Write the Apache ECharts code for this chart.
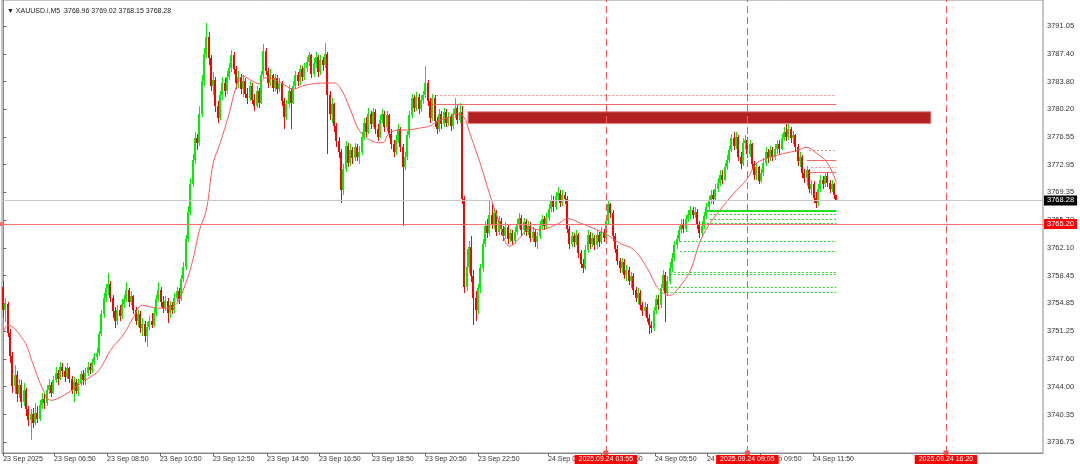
<!DOCTYPE html>
<html><head><meta charset="utf-8">
<script src="https://cdn.jsdelivr.net/npm/echarts@6/dist/echarts.min.js"></script>
<style>html,body{margin:0;padding:0;background:#fff}#c{width:1080px;height:467px}</style>
</head><body><div id="c"></div>
<script>
// ---------- DATA ----------
const symbolName = 'XAUUSD.i,M5';
const firstOpen = 3757.0;
const closes = [
3754.0,3754.8,3751.0,3748.0,3744.0,3745.5,3743.0,3744.2,3742.0,3743.5,
3741.0,3739.6,3740.4,3739.2,3740.6,3739.8,3741.6,3742.4,3741.8,3743.6,
3744.2,3743.2,3744.8,3745.8,3745.0,3746.6,3746.0,3745.2,3746.4,3745.0,
3743.6,3744.6,3743.4,3744.4,3745.6,3744.8,3745.8,3746.6,3746.2,3747.2,
3747.8,3748.4,3750.8,3753.4,3755.6,3756.8,3757.4,3755.6,3753.8,3752.6,
3754.0,3753.2,3754.8,3755.4,3756.6,3755.0,3755.8,3754.0,3752.6,3753.4,
3751.6,3752.2,3750.6,3751.8,3752.6,3752.0,3753.6,3755.4,3756.6,3755.0,
3754.2,3755.2,3753.6,3754.6,3754.0,3755.6,3756.4,3755.4,3758.0,3759.6,
3763.2,3766.8,3770.4,3773.6,3776.4,3775.8,3779.6,3783.8,3787.4,3789.6,
3786.8,3783.2,3784.0,3780.6,3779.0,3782.0,3783.6,3782.6,3784.4,3785.6,
3787.2,3785.4,3783.6,3784.4,3782.8,3783.8,3782.2,3781.6,3783.2,3781.4,
3780.6,3782.6,3781.0,3784.6,3787.8,3785.2,3783.6,3784.6,3783.0,3784.2,
3782.8,3783.6,3781.2,3779.2,3780.8,3782.6,3781.0,3783.2,3784.6,3783.8,
3785.4,3784.4,3785.6,3786.4,3787.2,3784.8,3786.2,3787.0,3785.0,3786.6,
3786.0,3787.4,3782.0,3779.6,3780.8,3778.0,3776.0,3774.6,3769.6,3772.4,
3775.4,3773.2,3774.8,3773.8,3775.2,3774.0,3774.6,3776.6,3778.4,3777.2,
3779.6,3778.2,3779.8,3777.6,3776.6,3778.8,3779.6,3777.8,3779.4,3777.0,
3775.6,3774.6,3776.2,3777.6,3775.2,3772.6,3774.0,3776.8,3779.4,3781.6,
3780.4,3781.8,3780.2,3781.4,3782.0,3783.6,3781.2,3779.0,3781.6,3778.6,
3777.6,3779.6,3778.2,3779.8,3778.4,3779.2,3778.0,3779.6,3780.4,3778.8,
3779.8,3768.4,3757.0,3759.6,3762.2,3758.4,3755.6,3754.0,3756.8,3759.4,
3762.6,3765.0,3764.0,3766.4,3765.2,3766.6,3764.2,3765.6,3764.6,3763.6,
3764.8,3763.2,3764.0,3763.0,3764.2,3765.2,3766.0,3764.4,3765.4,3764.2,
3765.0,3763.4,3764.2,3762.8,3763.6,3765.0,3765.8,3765.0,3766.0,3767.2,
3768.2,3767.4,3768.8,3769.2,3768.0,3769.0,3768.4,3764.6,3762.6,3763.6,
3762.8,3763.8,3761.4,3760.0,3759.4,3761.8,3763.8,3762.6,3763.4,3762.4,
3763.8,3762.8,3764.2,3763.4,3765.6,3767.8,3766.6,3763.6,3762.0,3760.4,
3759.4,3760.2,3758.6,3759.2,3757.8,3758.4,3756.6,3755.6,3756.2,3754.6,
3753.8,3754.4,3753.0,3752.0,3751.6,3753.8,3755.4,3754.6,3756.8,3758.6,
3756.2,3757.8,3759.4,3760.8,3762.4,3763.2,3764.4,3765.2,3764.6,3765.8,
3766.4,3767.0,3766.4,3766.8,3765.2,3764.0,3765.0,3766.2,3767.4,3768.2,
3769.0,3768.4,3769.8,3770.6,3771.6,3771.0,3772.6,3773.6,3774.8,3776.4,
3775.4,3776.6,3774.0,3773.0,3775.8,3776.2,3774.4,3775.6,3773.0,3771.6,
3772.6,3770.8,3771.8,3773.2,3774.6,3773.8,3774.8,3774.0,3775.0,3775.6,
3775.0,3776.4,3777.2,3776.6,3777.6,3776.4,3776.8,3775.2,3773.4,3774.0,
3771.8,3771.2,3772.2,3769.8,3770.4,3768.6,3768.0,3769.8,3771.0,3770.4,
3771.4,3770.6,3769.8,3770.4,3768.96,3768.28
];
const highs = [
3757.8,3755.6,3755.0,3751.5,3748.5,3746.8,3746.0,3745.0,3744.8,3744.5,
3743.8,3741.5,3741.0,3741.2,3741.8,3741.4,3742.2,3743.2,3743.0,3744.2,
3745.0,3744.6,3745.4,3746.5,3746.2,3747.2,3747.0,3746.5,3747.0,3746.6,
3745.4,3745.2,3745.0,3745.0,3746.0,3746.2,3746.4,3747.2,3747.0,3747.6,
3748.4,3749.0,3751.2,3754.0,3756.2,3757.4,3758.8,3757.8,3756.0,3754.4,
3754.6,3754.6,3755.4,3756.0,3757.6,3756.8,3756.4,3756.0,3754.4,3754.0,
3753.8,3753.0,3752.6,3752.4,3753.2,3753.6,3754.2,3756.0,3757.6,3757.0,
3755.8,3755.8,3755.6,3755.2,3755.0,3756.2,3757.0,3756.8,3758.6,3760.2,
3763.8,3767.6,3771.2,3774.4,3777.2,3777.0,3780.6,3784.6,3788.2,3791.4,
3790.2,3787.2,3785.0,3784.4,3781.2,3782.6,3784.4,3784.2,3785.2,3786.2,
3787.9,3787.6,3785.8,3785.2,3784.8,3784.6,3784.2,3783.0,3783.8,3783.6,
3782.2,3783.2,3783.0,3785.2,3788.7,3788.2,3785.6,3785.4,3784.8,3784.8,
3784.6,3784.2,3783.8,3781.6,3781.4,3783.4,3783.0,3783.8,3785.2,3785.0,
3786.0,3785.8,3786.2,3787.0,3787.6,3787.4,3786.8,3787.6,3787.2,3787.2,
3787.0,3788.8,3787.6,3782.6,3781.6,3781.0,3778.4,3776.6,3775.0,3773.0,
3776.0,3775.8,3775.6,3775.2,3775.8,3775.6,3775.4,3777.2,3779.0,3779.2,
3780.4,3780.0,3780.4,3780.2,3778.2,3779.4,3780.2,3780.0,3780.0,3779.6,
3777.6,3776.2,3776.8,3778.2,3777.8,3775.6,3774.6,3777.4,3780.0,3782.2,
3782.0,3782.4,3782.2,3782.0,3782.6,3785.8,3784.0,3781.6,3782.2,3782.0,
3779.2,3780.2,3780.0,3780.4,3780.2,3779.8,3779.6,3780.2,3781.6,3780.8,
3781.0,3780.6,3768.8,3762.0,3763.0,3763.6,3759.2,3756.4,3757.4,3760.0,
3763.2,3765.6,3765.8,3768.2,3768.0,3767.2,3767.0,3766.2,3766.0,3765.0,
3765.4,3765.2,3764.6,3764.4,3764.8,3765.8,3766.6,3766.4,3766.0,3765.8,
3765.6,3765.4,3764.8,3764.6,3764.2,3765.6,3766.4,3766.2,3766.6,3767.8,
3769.0,3768.8,3769.4,3770.0,3769.6,3769.6,3769.4,3768.8,3765.0,3764.2,
3764.0,3764.4,3764.0,3761.8,3760.6,3762.4,3764.4,3764.2,3764.0,3763.8,
3764.4,3764.2,3764.8,3764.6,3766.2,3768.2,3768.0,3767.0,3764.0,3762.4,
3760.8,3760.8,3760.6,3759.8,3759.6,3759.0,3758.8,3757.0,3756.8,3756.6,
3755.0,3755.0,3754.8,3753.4,3752.6,3754.4,3756.0,3756.0,3757.4,3759.2,
3759.0,3758.4,3760.2,3761.4,3763.0,3763.8,3765.0,3765.8,3765.8,3766.4,
3767.0,3767.6,3767.4,3767.4,3767.2,3765.6,3765.6,3766.8,3768.0,3768.8,
3769.6,3769.6,3770.4,3771.2,3772.2,3772.2,3773.2,3774.2,3775.4,3777.0,
3777.2,3777.2,3776.8,3774.6,3776.4,3776.8,3776.6,3776.2,3775.8,3773.4,
3773.2,3772.8,3772.4,3773.8,3775.2,3775.0,3775.4,3775.2,3775.6,3776.2,
3776.2,3777.0,3777.8,3778.3,3778.2,3777.8,3777.4,3777.0,3775.6,3774.6,
3774.2,3772.4,3772.8,3772.4,3771.0,3770.8,3769.4,3770.4,3771.6,3771.4,
3772.0,3771.8,3771.0,3771.0,3770.6,3769.02
];
const lows = [
3753.0,3752.4,3750.5,3747.0,3743.2,3743.0,3742.0,3742.5,3741.2,3741.5,
3740.2,3738.8,3737.0,3738.6,3739.0,3739.2,3739.5,3741.0,3741.0,3741.5,
3743.0,3742.6,3743.0,3744.5,3744.2,3744.8,3745.2,3744.6,3745.0,3744.4,
3743.0,3742.0,3743.0,3742.8,3744.0,3744.2,3744.2,3745.4,3745.6,3745.8,
3746.8,3747.4,3748.0,3750.6,3753.0,3755.0,3756.0,3755.0,3753.0,3751.6,
3752.0,3752.6,3752.8,3754.2,3755.0,3754.4,3754.6,3753.4,3752.0,3751.8,
3751.0,3750.6,3749.8,3749.1,3751.4,3751.6,3751.8,3753.2,3755.0,3754.4,
3753.6,3753.8,3752.3,3753.0,3753.4,3753.6,3755.0,3754.8,3755.2,3757.6,
3759.2,3762.8,3766.4,3770.0,3773.0,3774.8,3775.4,3779.2,3783.2,3786.8,
3786.0,3782.6,3782.0,3779.8,3778.4,3778.8,3781.4,3781.8,3782.2,3784.0,
3785.0,3784.8,3782.8,3783.0,3782.2,3781.8,3781.6,3780.8,3781.2,3780.8,
3780.0,3780.4,3780.4,3780.8,3784.2,3784.6,3783.0,3783.2,3782.4,3782.6,
3782.2,3782.4,3780.6,3777.6,3778.8,3780.4,3777.6,3780.8,3782.8,3783.2,
3783.4,3783.8,3784.0,3785.0,3785.8,3784.2,3784.4,3785.6,3784.4,3784.6,
3785.2,3785.6,3774.4,3778.8,3778.4,3777.2,3775.2,3773.8,3767.9,3769.0,
3772.0,3772.6,3772.8,3773.0,3773.4,3773.4,3773.0,3774.2,3776.2,3776.6,
3777.0,3777.6,3777.8,3777.0,3776.0,3776.4,3778.4,3777.2,3777.4,3776.4,
3775.0,3774.0,3774.2,3775.8,3774.6,3765.0,3772.2,3773.6,3776.4,3779.0,
3779.8,3780.0,3779.6,3779.8,3780.8,3781.6,3780.6,3778.4,3778.6,3777.8,
3777.0,3777.2,3777.6,3777.8,3777.8,3778.0,3777.4,3777.6,3779.0,3778.2,
3778.4,3767.8,3756.2,3756.4,3758.8,3757.6,3752.0,3752.6,3753.4,3756.2,
3759.0,3762.2,3763.4,3763.6,3764.6,3764.6,3763.6,3763.8,3763.8,3763.0,
3763.2,3762.6,3762.8,3762.4,3762.6,3763.8,3764.6,3763.6,3763.8,3763.6,
3763.8,3762.8,3762.8,3762.2,3762.0,3763.2,3764.6,3764.4,3764.6,3765.6,
3766.8,3766.8,3767.0,3768.2,3767.4,3767.6,3767.8,3764.0,3762.0,3762.2,
3762.2,3762.4,3760.8,3759.4,3758.8,3759.2,3761.4,3762.0,3762.2,3761.8,
3762.0,3762.2,3762.6,3762.8,3763.0,3765.2,3766.0,3763.0,3761.4,3759.8,
3758.8,3758.8,3758.0,3757.8,3757.2,3756.8,3756.0,3755.0,3754.8,3754.0,
3753.2,3753.2,3752.4,3750.9,3751.0,3751.2,3753.4,3754.0,3754.2,3756.4,
3752.4,3755.8,3757.4,3759.0,3760.4,3762.0,3762.8,3764.0,3764.0,3764.2,
3765.4,3765.8,3765.8,3766.0,3764.6,3763.4,3763.6,3764.6,3765.8,3767.0,
3767.8,3767.8,3768.2,3769.4,3770.2,3770.4,3770.8,3772.2,3773.2,3774.6,
3774.8,3775.0,3773.4,3772.4,3772.8,3775.0,3773.8,3774.0,3772.4,3771.0,
3771.0,3770.4,3770.6,3771.4,3772.8,3773.2,3773.4,3773.4,3773.6,3774.4,
3774.4,3774.8,3776.0,3776.0,3776.2,3775.8,3775.6,3774.6,3772.8,3772.6,
3771.2,3770.6,3770.2,3769.2,3769.0,3768.0,3767.3,3767.6,3769.4,3769.8,
3770.0,3770.0,3769.2,3769.4,3768.4,3768.15
];
// moving average (bar index, value)
const maIdx = [0,2,9,13,17,21,28,34,38,42,47,53,57,61,66,72,76,80,83,86,89,92,95,99,102,105,109,112,115,120,124,127,131,136,142,145,148,152,156,161,166,169,172,178,184,187,191,195,199,202,204,209,213,217,222,226,231,235,239,244,247,253,258,264,270,276,282,286,289,292,296,301,305,309,314,320,326,330,336,342,348,352,356,361,365];
const maVal = [3750.9,3752.0,3750.0,3747.0,3743.9,3742.2,3743.1,3744.4,3745.2,3746.1,3748.7,3750.9,3753.0,3754.6,3754.3,3754.2,3754.8,3757.5,3760.4,3764.4,3767.0,3773.1,3775.7,3779.6,3783.0,3784.5,3783.9,3783.5,3784.3,3783.9,3783.2,3782.8,3783.2,3783.5,3783.6,3783.6,3782.8,3780.2,3777.4,3776.1,3775.8,3777.0,3777.4,3777.5,3777.8,3778.0,3778.7,3779.1,3779.6,3779.1,3777.4,3773.1,3769.2,3765.7,3762.3,3763.3,3764.7,3764.4,3764.7,3765.4,3765.9,3765.3,3764.7,3763.9,3762.7,3761.9,3759.5,3757.2,3756.2,3755.9,3756.9,3759.1,3762.7,3765.0,3767.0,3769.2,3771.1,3773.1,3773.9,3774.4,3774.8,3775.2,3774.5,3773.2,3770.6];
// axis ticks
const yTickValues = [3791.05,3787.40,3783.80,3780.20,3776.55,3772.95,3769.35,3765.70,3762.10,3758.45,3754.85,3751.25,3747.60,3744.00,3740.35,3736.75];
const xTickIdx = [0,22.3,45.5,68.7,91.9,115.6,138.4,161.6,184.8,208,238.7,261.9,285.5,308.3,331.5,354.7];
const xTickLabels = ['23 Sep 2025','23 Sep 06:50','23 Sep 08:50','23 Sep 10:50','23 Sep 12:50','23 Sep 14:50','23 Sep 16:50','23 Sep 18:50','23 Sep 20:50','23 Sep 22:50','24 Sep 01:50','24 Sep 03:50','24 Sep 05:50','24 Sep 07:50','24 Sep 09:50','24 Sep 11:50'];
const slotCount = 456;
// objects
const bidPrice = 3768.28;
const hLinePrice = 3765.20;
const vLineIdx = [264, 326, 413];
const vLineLabels = ['2025.09.24 03:55','2025.09.24 09:05','2025.09.24 16:20'];
const zoneX = [203.6, 406.4];
const zoneY = [3779.85, 3778.30];
const redSolid = [[188, 365, 3780.89],[352, 365, 3773.5],[353, 365, 3771.9]];
const redDotted = [[188, 365, 3782.06],[353, 365, 3774.8],[354, 365, 3772.55]];
const greenSolid = [[308.3, 365, 3766.96]];
const greenDotted = [[309.6,365,3766.53],[309.6,365,3765.79],[308.3,365,3765.25],[296.4,365,3762.92],[296.4,365,3761.71],[292,365,3758.85],[292,365,3758.59],[290.7,365,3757.0],[290.7,365,3756.24]];

// ---------- BUILD ----------
const FONT = 'Liberation Sans';
const BULL = '#00f000', BEAR = '#ff0000';
const candles = closes.map((c, i) => [i, i === 0 ? firstOpen : closes[i - 1], c, lows[i], highs[i]]);
const slots = Array.from({length: slotCount}, (_, i) => String(i));
const last = closes.length - 1;
const titleText = '\u25BC ' + symbolName + '  ' + [candles[last][1], highs[last], lows[last], closes[last]].map(v => v.toFixed(2)).join(' ');

function renderCandle(params, api) {
  const i = api.value(0), o = api.value(1), c = api.value(2), l = api.value(3), h = api.value(4);
  const pO = api.coord([i, o]), pC = api.coord([i, c]), pL = api.coord([i, l]), pH = api.coord([i, h]);
  const xc = Math.round(pO[0]);
  const col = c >= o ? BULL : BEAR;
  const yH = Math.round(pH[1]), yL = Math.round(pL[1]);
  const top = Math.round(Math.min(pO[1], pC[1])), bot = Math.round(Math.max(pO[1], pC[1]));
  return {type: 'group', children: [
    {type: 'rect', shape: {x: xc, y: yH, width: 1, height: Math.max(1, yL - yH)}, style: {fill: col}},
    {type: 'rect', shape: {x: xc - 1, y: top, width: 2, height: Math.max(1, bot - top)}, style: {fill: col}}
  ]};
}

function seg(arr, color, type, width) {
  return arr.map(([a, b, p]) => [
    {coord: [a, p], lineStyle: {color, type, width}},
    {coord: [b, p], lineStyle: {color, type, width}}
  ]);
}

const markLines = [].concat(
  seg(redDotted, '#f08a8a', [2, 2], 1),
  seg(redSolid, '#f06a6a', 'solid', 1),
  seg(greenDotted, '#22d822', [2, 2], 1),
  seg(greenSolid, '#1ee01e', 'solid', 2)
);

const chart = echarts.init(document.getElementById('c'), null, {renderer: 'canvas'});
chart.setOption({
  animation: false,
  backgroundColor: '#ffffff',
  title: {text: titleText, left: 2, top: 3, textStyle: {fontFamily: FONT, fontSize: 7, fontWeight: 'normal', color: '#222'}},
  grid: {left: 2, top: -1, width: 1041, height: 454, show: true, borderColor: '#8a8a8a', borderWidth: 1, backgroundColor: '#fff'},
  xAxis: [
    {type: 'category', data: slots, boundaryGap: true, show: false},
    {type: 'value', min: -0.5, max: slotCount - 0.5, position: 'bottom',
     axisLine: {show: true, lineStyle: {color: '#8a8a8a'}},
     splitLine: {show: false},
     axisTick: {show: true, customValues: xTickIdx, length: 3, lineStyle: {color: '#666'}},
     axisLabel: {customValues: xTickIdx, align: 'left', margin: 3, fontSize: 7, fontFamily: FONT, color: '#333',
       formatter: v => { const k = xTickIdx.findIndex(t => Math.abs(t - v) < 1e-6); return k >= 0 ? xTickLabels[k] : ''; }}}
  ],
  yAxis: {type: 'value', position: 'right', min: 3735.32, max: 3794.43, scale: true,
    axisLine: {show: true, lineStyle: {color: '#8a8a8a'}},
    splitLine: {show: false},
    axisTick: {show: true, customValues: yTickValues, length: 3, lineStyle: {color: '#666'}},
    axisLabel: {customValues: yTickValues, margin: 4, fontSize: 7.5, fontFamily: FONT, color: '#333', formatter: v => v.toFixed(2)}},
  series: [
    {type: 'line', name: 'objects', xAxisIndex: 1, yAxisIndex: 0, data: [], z: 1, clip: false, silent: true,
     itemStyle: {color: '#f07070'}, lineStyle: {color: '#f07070'},
     markArea: {silent: true, itemStyle: {color: '#b22222', borderColor: '#e38b8b', borderWidth: 1},
       data: [[{coord: [zoneX[0], zoneY[0]]}, {coord: [zoneX[1], zoneY[1]]}]]},
     markLine: {silent: true, symbol: ['none', 'none'], label: {show: false}, data: markLines}},
    {type: 'custom', name: 'XAUUSD', xAxisIndex: 0, yAxisIndex: 0, data: candles, z: 3, clip: false,
     encode: {x: 0, y: [1, 2, 3, 4]}, renderItem: renderCandle},
    {type: 'line', name: 'MA', xAxisIndex: 1, yAxisIndex: 0, data: maIdx.map((x, k) => [x, maVal[k]]),
     smooth: 0.4, symbol: 'none', z: 4, lineStyle: {color: '#ff5555', width: 1}},
    {type: 'line', name: 'tags', xAxisIndex: 1, yAxisIndex: 0, data: [], z: 6, clip: false, silent: true,
     itemStyle: {color: '#ff5050'},
     markLine: {silent: true, symbol: ['none', 'none'], data: [
       {yAxis: bidPrice, lineStyle: {color: '#c8c8c8', type: 'solid', width: 1},
        label: {show: true, position: 'end', distance: 1, formatter: bidPrice.toFixed(2), backgroundColor: '#000', color: '#fff',
                fontFamily: FONT, fontSize: 7.5, padding: [1, 3, 1, 3]}},
       {yAxis: hLinePrice, symbol: ['emptyRect', 'none'], symbolSize: 4, lineStyle: {color: '#ff7070', type: 'solid', width: 1},
        label: {show: true, position: 'end', distance: 1, formatter: hLinePrice.toFixed(2), backgroundColor: '#ff0000', color: '#fff',
                fontFamily: FONT, fontSize: 7.5, padding: [1, 3, 1, 3]}}
     ].concat(vLineIdx.map((x, k) => ({
       xAxis: x, symbol: ['none', 'triangle'], symbolSize: 5,
       lineStyle: {color: '#ff5050', type: [7, 4], width: 1},
       label: {show: true, position: 'start', distance: 2, formatter: vLineLabels[k], backgroundColor: '#ff0000', color: '#fff',
               fontFamily: FONT, fontSize: 7, padding: [1, 4, 1, 4]}
     })))}}
  ]
});
</script></body></html>
